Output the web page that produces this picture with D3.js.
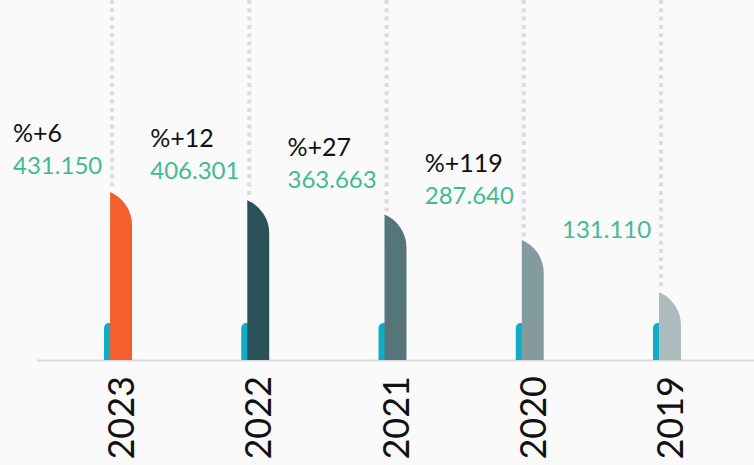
<!DOCTYPE html>
<html>
<head>
<meta charset="utf-8">
<script src="https://cdn.jsdelivr.net/npm/d3@7"></script>
<style>
  html, body { margin: 0; padding: 0; background: #fafafa; }
  svg { display: block; font-family: Lato, "Open Sans", sans-serif; }
</style>
</head>
<body>
<div class="chartHolder"></div>
<script>
var years = ["2023", "2022", "2021", "2020", "2019"];
var totals = [431150, 406301, 363663, 287640, 131110];
var growth = [6, 12, 27, 119, null];
var marker = [1, 1, 1, 1, 1];
var barColors = ["#f3602d", "#2b5158", "#557579", "#839b9d", "#aebbbd"];

var width = 754;
var height = 465;
var baseY = 360;

var svg = d3
  .select(".chartHolder")
  .append("svg")
  .attr("width", width)
  .attr("height", height);

svg.append("rect").attr("width", width).attr("height", height).attr("fill", "#fafafa");

// x positions of the bars
var xScale = d3
  .scaleBand()
  .domain(years)
  .range([52.4, 738.6])
  .paddingInner(0.84)
  .paddingOuter(0.42);

var bw = xScale.bandwidth();

// bar heights (there is a stub at zero in the original)
var yScale = d3
  .scaleLinear()
  .domain([0, d3.max(totals)])
  .range([baseY - 24, baseY - 168]);

// label heights follow the values too, but flatter
var labelY = d3
  .scaleLinear()
  .domain([0, d3.max(totals)])
  .range([265.5, 173.6]);

var markerScale = d3.scaleLinear().domain([0, 1]).range([baseY, 323]);

var fmt = d3.formatLocale({ decimal: ",", thousands: ".", grouping: [3] }).format(",");

// dotted guides
svg
  .selectAll(".guide")
  .data(totals)
  .enter()
  .append("line")
  .attr("class", "guide")
  .attr("x1", (d, i) => xScale(years[i]) + 2)
  .attr("x2", (d, i) => xScale(years[i]) + 2)
  .attr("y1", 0)
  .attr("y2", (d) => yScale(d) - 2)
  .attr("stroke", "#dcdcdc")
  .attr("stroke-width", 4)
  .attr("stroke-dasharray", "4,4.3");

// baseline
svg
  .append("line")
  .attr("x1", 37)
  .attr("x2", width)
  .attr("y1", baseY + 0.5)
  .attr("y2", baseY + 0.5)
  .attr("stroke", "#d9d9d9")
  .attr("stroke-width", 2);

// small cyan markers
svg
  .selectAll(".marker")
  .data(marker)
  .enter()
  .append("path")
  .attr("class", "marker")
  .attr("fill", "#0fadc6")
  .attr("d", function (d, i) {
    var x0 = xScale(years[i]) - 6;
    var t = markerScale(d);
    return "M" + x0 + "," + baseY + "V" + (t + 5) + "A5,5 0 0 1 " + (x0 + 5) + "," + t + "H" + (x0 + 7) + "V" + baseY + "Z";
  });

// main bars, top cut by a circular arc (centre left of the bar)
var drop = 33;
var r = (bw * bw + drop * drop) / (2 * bw);
svg
  .selectAll(".bar")
  .data(totals)
  .enter()
  .append("path")
  .attr("class", "bar")
  .attr("fill", (d, i) => barColors[i])
  .attr("d", function (d, i) {
    var x = xScale(years[i]);
    var t = yScale(d);
    return (
      "M" + x + "," + baseY +
      "V" + t +
      "A" + r + "," + r + " 0 0 1 " + (x + bw) + "," + (t + drop) +
      "V" + baseY + "Z"
    );
  });

// value labels
svg
  .selectAll(".value")
  .data(totals)
  .enter()
  .append("text")
  .attr("class", "value")
  .attr("x", (d, i) => xScale(years[i]) - 97)
  .attr("y", (d) => labelY(d))
  .attr("fill", "#3fbb94")
  .attr("font-size", 24)
  .text((d) => fmt(d));

// growth labels
svg
  .selectAll(".growth")
  .data(growth)
  .enter()
  .filter((d) => d !== null)
  .append("text")
  .attr("class", "growth")
  .attr("x", (d, i) => xScale(years[i]) - 97)
  .attr("y", (d, i) => labelY(totals[i]) - 32)
  .attr("fill", "#111")
  .attr("font-size", 25)
  .text((d) => "%+" + d);

// year labels, rotated
svg
  .selectAll(".year")
  .data(years)
  .enter()
  .append("text")
  .attr("class", "year")
  .attr("transform", (d) => "translate(" + (xScale(d) + bw / 2 + 13) + ",376) rotate(-90)")
  .attr("text-anchor", "end")
  .attr("fill", "#111")
  .attr("font-size", 36)
  .text((d) => d);
</script>
</body>
</html>
